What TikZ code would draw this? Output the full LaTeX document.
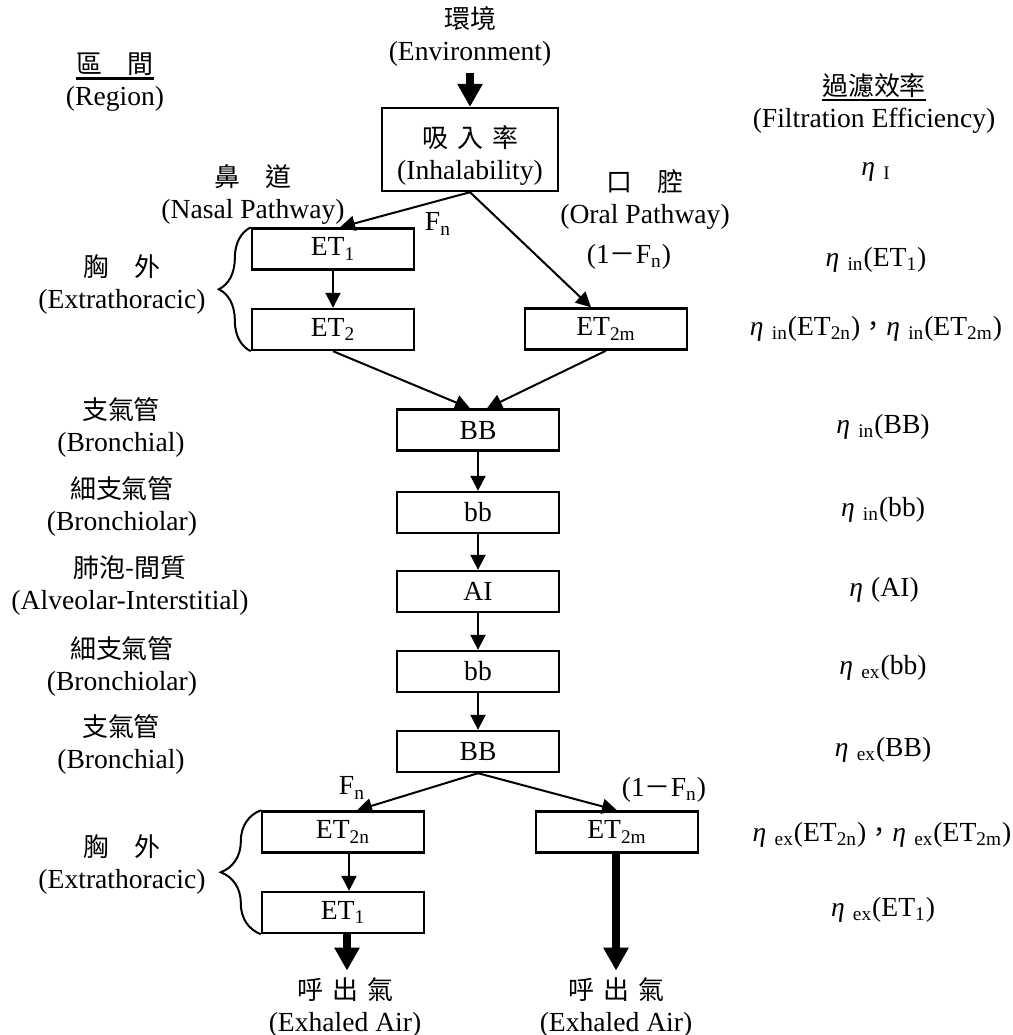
\documentclass[tikz,border=0pt]{standalone}
\usepackage{fontspec}
\setmainfont{Liberation Serif}
\newfontfamily\cjk{Noto Sans CJK TC}[Scale=0.94]
\usetikzlibrary{arrows.meta,decorations.pathreplacing}

\newcommand\gap{\hspace{0.35em}}
\newcommand\ul[1]{\sbox0{#1}\rlap{\rule[-3.2pt]{\wd0}{1.2pt}}\usebox0}
\newcommand\eff[1]{\textit{η}\hspace{0.3em}\textsubscript{#1}}

\tikzset{
  box/.style={draw, line width=1.2pt, minimum width=81pt, minimum height=20.5pt, inner sep=0pt},
  lab/.style={align=center},
  flow/.style={-{Triangle[length=7.5pt,width=7.5pt]}, line width=1pt},
  bigflow/.style={-{Triangle[length=11.5pt,width=12pt]}, line width=4pt},
  brc/.style={decorate, line width=1pt}
}

\begin{document}
\begin{tikzpicture}[x=0.5pt,y=-0.5pt,font=\fontsize{13.8pt}{16pt}\selectfont]
\useasboundingbox (0,0) rectangle (1013,1035);

% titoli
\node[lab] (reg) at (115,82) {\ul{\cjk 區　間}\\(Region)};
\node[lab] (filt) at (874,103) {\ul{\cjk 過濾效率}\\(Filtration Efficiency)};
\node[lab] (env) at (470,36.5) {{\cjk 環境}\\(Environment)};

% inspirazione
\node[box, lab, minimum width=88pt, minimum height=41.5pt] (inh) at (470,149.5) {\rule{0pt}{17pt}{\cjk 吸\gap 入\gap 率}\\(Inhalability)};
\node[lab] (nasal) at (253,195) {{\cjk 鼻　道}\\(Nasal Pathway)};
\node[lab] (oral) at (645,199.5) {{\cjk 口　腔}\\(Oral Pathway)};
\node (fn1) at (438,224) {F\textsubscript{n}};
\node (om1) at (629,257) {(1{\cjk －}F\textsubscript{n})};

\node[box] (et1) at (333,249) {ET\textsubscript{1}};
\node[box] (et2) at (333,329.5) {ET\textsubscript{2}};
\node[box] (et2m) at (606,329) {ET\textsubscript{2m}};
\node[lab] (ext1) at (122,284.5) {{\cjk 胸　外}\\(Extrathoracic)};

\draw[bigflow] (env) -- (inh);
\draw[flow] (inh.south) -- ([xshift=3.5pt]et1.north);
\draw[flow] (inh.south) -- ([xshift=-7.5pt]et2m.north);
\draw[flow] (et1) -- (et2);
\draw[brc, decoration={brace,amplitude=16pt}] (et2.south west) -- (et1.north west);

% polmone
\node[box] (bb1) at (478,430) {BB};
\node[box] (bbs1) at (478,512.5) {bb};
\node[box] (ai) at (478,591.5) {AI};
\node[box] (bbs2) at (478,671.5) {bb};
\node[box] (bb2) at (478,751.5) {BB};

\draw[flow] (et2.south) -- ([xshift=-4pt]bb1.north);
\draw[flow] (et2m.south) -- ([xshift=4.5pt]bb1.north);
\draw[flow] (bb1) -- (bbs1);
\draw[flow] (bbs1) -- (ai);
\draw[flow] (ai) -- (bbs2);
\draw[flow] (bbs2) -- (bb2);

\node[lab] (l1) at (121,427.5) {{\cjk 支氣管}\\(Bronchial)};
\node[lab] (l2) at (122,506) {{\cjk 細支氣管}\\(Bronchiolar)};
\node[lab] (l3) at (130,586) {{\cjk 肺泡-間質}\\(Alveolar-Interstitial)};
\node[lab] (l4) at (122,666) {{\cjk 細支氣管}\\(Bronchiolar)};
\node[lab] (l5) at (121,744) {{\cjk 支氣管}\\(Bronchial)};

% espirazione
\node (fn2) at (352,788) {F\textsubscript{n}};
\node (om2) at (664,790) {(1{\cjk －}F\textsubscript{n})};
\node[box] (et2n) at (343,832) {ET\textsubscript{2n}};
\node[box] (et2mb) at (617,832) {ET\textsubscript{2m}};
\node[box] (et1b) at (343,912.5) {ET\textsubscript{1}};
\node[lab] (ext2) at (122,864.5) {{\cjk 胸　外}\\(Extrathoracic)};
\node[lab] (exn) at (345,1007.5) {{\cjk 呼\gap 出\gap 氣}\\(Exhaled Air)};
\node[lab] (exm) at (616,1007.5) {{\cjk 呼\gap 出\gap 氣}\\(Exhaled Air)};

\draw[flow] (bb2.south) -- ([xshift=7pt]et2n.north);
\draw[flow] (bb2.south) -- (et2mb.north);
\draw[flow] ([xshift=3pt]et2n.south) -- ([xshift=3pt]et1b.north);
\draw[bigflow] ([xshift=2pt]et1b.south) -- ([xshift=2pt]et1b.south |- exn.north);
\draw[bigflow] (et2mb.south -| exm) -- (exm.north);
\draw[brc, decoration={brace,amplitude=20pt}] (et1b.south west) -- (et2n.north west);

% efficienze
\node (ei) at (876,172) {\eff{I}};
\node (ein1) at (876,260) {\eff{in}(ET\textsubscript{1})};
\node (ein2) at (876,329) {\eff{in}(ET\textsubscript{2n}){\cjk ，}\eff{in}(ET\textsubscript{2m})};
\node (ein3) at (883,427) {\eff{in}(BB)};
\node (ein4) at (883,510) {\eff{in}(bb)};
\node (eai) at (884,590) {\textit{η}\hspace{0.3em}(AI)};
\node (eex1) at (883,668) {\eff{ex}(bb)};
\node (eex2) at (883,750) {\eff{ex}(BB)};
\node (eex3) at (882,835) {\eff{ex}(ET\textsubscript{2n}){\cjk ，}\eff{ex}(ET\textsubscript{2m})};
\node (eex4) at (883,910) {\eff{ex}(ET\textsubscript{1})};

\end{tikzpicture}
\end{document}
